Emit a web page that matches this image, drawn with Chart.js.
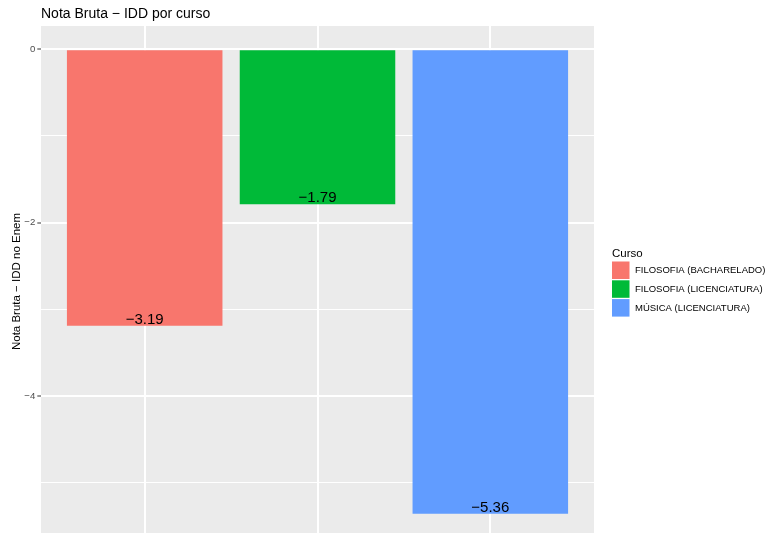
<!DOCTYPE html>
<html><head><meta charset="utf-8">
<script src="https://cdn.jsdelivr.net/npm/chart.js@4"></script>
<style>html,body{margin:0;padding:0;background:#fff;overflow:hidden}
#wrap{position:relative;width:771px;height:537px}</style></head>
<body><div id="wrap"><canvas id="c" width="771" height="537"></canvas></div>
<script>
const chartTitle = 'Nota Bruta \u2212 IDD por curso';
const yAxisTitle = 'Nota Bruta \u2212 IDD no Enem';
const legendTitle = 'Curso';
const categories = ['FILOSOFIA (BACHARELADO)', 'FILOSOFIA (LICENCIATURA)', 'MÚSICA (LICENCIATURA)'];
const values = [-3.19, -1.79, -5.36];
const colors = ['#F8766D', '#00BA38', '#619CFF'];
const yTickValues = [-5, -4, -3, -2, -1, 0];
const yMajorTicks = [-4, -2, 0];

const FONT = '"Liberation Sans", Arial, Helvetica, sans-serif';
const dataMin = Math.min(0, ...values), dataMax = Math.max(0, ...values);
const pad = (dataMax - dataMin) * 0.05;
const isMajor = v => yMajorTicks.includes(v);
const fmt = v => (v < 0 ? '\u2212' : '') + Math.abs(v).toFixed(2);

const decor = {
  id: 'decor',
  beforeDraw(chart) {
    const {ctx, chartArea: a} = chart;
    ctx.save();
    ctx.fillStyle = '#EBEBEB';
    ctx.fillRect(a.left, a.top, a.right - a.left, a.bottom - a.top);
    ctx.restore();
  },
  afterDraw(chart) {
    const {ctx, chartArea: a} = chart;
    const ys = chart.scales.y;
    ctx.save();
    ctx.fillStyle = '#000';
    ctx.font = '14px ' + FONT;
    ctx.textAlign = 'left';
    ctx.textBaseline = 'alphabetic';
    ctx.fillText(chartTitle, 41, 18.3);
    ctx.save();
    ctx.translate(20, (a.top + a.bottom) / 2);
    ctx.rotate(-Math.PI / 2);
    ctx.font = '11.5px ' + FONT;
    ctx.textAlign = 'center';
    ctx.fillText(yAxisTitle, 0, 0);
    ctx.restore();
    const meta = chart.getDatasetMeta(0);
    ctx.font = '15px ' + FONT;
    ctx.textAlign = 'center';
    ctx.fillStyle = '#000';
    meta.data.forEach((el, i) => {
      ctx.fillText(fmt(values[i]), el.x, ys.getPixelForValue(values[i]) - 2);
    });
    const lx = a.right + 18;
    ctx.font = '11.5px ' + FONT;
    ctx.textAlign = 'left';
    ctx.fillText(legendTitle, lx, 256.7);
    const keyTop = 261.5, pitch = 18.8, ks = 17.5;
    ctx.font = '9.5px ' + FONT;
    ctx.textBaseline = 'middle';
    categories.forEach((c, i) => {
      const y = keyTop + i * pitch;
      ctx.fillStyle = colors[i];
      ctx.fillRect(lx, y, ks, ks);
      ctx.fillStyle = '#000';
      ctx.fillText(c, lx + ks + 5.5, y + ks / 2 + 0.5);
    });
    ctx.restore();
  }
};

new Chart(document.getElementById('c'), {
  type: 'bar',
  data: {
    datasets: [{
      data: categories.map((c, i) => ({x: i + 1, y: values[i]})),
      backgroundColor: colors,
      borderWidth: 0,
      categoryPercentage: 1,
      barPercentage: 0.9
    }]
  },
  options: {
    responsive: false,
    animation: false,
    devicePixelRatio: 1,
    layout: {padding: {left: 0, right: 177, top: 26, bottom: 0}},
    plugins: {legend: {display: false}, tooltip: {enabled: false}, title: {display: false}},
    scales: {
      x: {
        type: 'linear',
        min: 0.4, max: 3.6,
        offset: false,
        afterBuildTicks: s => { s.ticks = categories.map((c, i) => ({value: i + 1})); },
        afterFit: s => { s.height = 0; s.paddingLeft = 0; s.paddingRight = 0; },
        ticks: {display: false},
        border: {display: false},
        grid: {color: '#FFFFFF', lineWidth: 2, drawTicks: false, offset: false}
      },
      y: {
        min: dataMin - pad, max: dataMax + pad,
        afterBuildTicks: s => { s.ticks = yTickValues.map(v => ({value: v})); },
        afterFit: s => { s.width = 41; s.paddingTop = 0; s.paddingBottom = 0; },
        border: {display: false},
        ticks: {
          autoSkip: false,
          padding: 2,
          color: '#4D4D4D',
          font: {family: FONT, size: 9.6},
          callback: v => isMajor(v) ? (v < 0 ? '\u2212' + Math.abs(v) : String(v)) : ''
        },
        grid: {
          color: '#FFFFFF',
          lineWidth: c => isMajor(c.tick.value) ? 2 : 1.1,
          tickLength: 3.7,
          tickWidth: 1,
          tickColor: c => isMajor(c.tick.value) ? '#333333' : 'rgba(0,0,0,0)'
        }
      }
    }
  },
  plugins: [decor]
});
</script></body></html>
